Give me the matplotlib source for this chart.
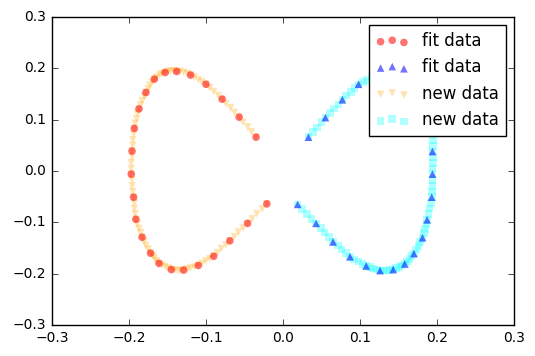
import matplotlib
matplotlib.use("Agg")
import matplotlib.pyplot as plt

plt.style.use('classic')

# fitted points, left curve
fit_left_x = [-0.035, -0.057, -0.079, -0.100, -0.120, -0.138, -0.153, -0.167, -0.178,
              -0.187, -0.193, -0.196, -0.197, -0.194, -0.191, -0.183, -0.172, -0.161,
              -0.145, -0.129, -0.110, -0.090, -0.069, -0.046, -0.021]
fit_left_y = [0.066, 0.105, 0.140, 0.169, 0.187, 0.194, 0.192, 0.179, 0.153,
              0.121, 0.083, 0.039, -0.006, -0.051, -0.094, -0.129, -0.160, -0.180,
              -0.192, -0.193, -0.184, -0.166, -0.136, -0.102, -0.064]

# fitted points, right curve
fit_right_x = [0.033, 0.055, 0.077, 0.098, 0.120, 0.138, 0.153, 0.167, 0.178,
               0.187, 0.193, 0.194, 0.194, 0.193, 0.187, 0.181, 0.170, 0.158,
               0.143, 0.126, 0.108, 0.087, 0.065, 0.043, 0.019]
fit_right_y = [0.066, 0.104, 0.139, 0.169, 0.187, 0.194, 0.192, 0.179, 0.153,
               0.121, 0.083, 0.038, -0.006, -0.051, -0.095, -0.130, -0.161, -0.181,
               -0.192, -0.194, -0.185, -0.167, -0.138, -0.102, -0.065]

# new data, left curve
new_left_x = [-0.035, -0.041, -0.046, -0.052, -0.057, -0.063, -0.068, -0.074, -0.079,
              -0.084, -0.090, -0.095, -0.100, -0.105, -0.110, -0.115, -0.120, -0.124,
              -0.129, -0.134, -0.138, -0.142, -0.146, -0.149, -0.153, -0.157, -0.160,
              -0.164, -0.167, -0.170, -0.173, -0.175, -0.178, -0.180, -0.183, -0.185,
              -0.187, -0.189, -0.190, -0.192, -0.193, -0.194, -0.195, -0.195, -0.196,
              -0.196, -0.197, -0.197, -0.197, -0.196, -0.196, -0.195, -0.194, -0.193,
              -0.193, -0.192, -0.191, -0.189, -0.187, -0.185, -0.183, -0.180, -0.178,
              -0.175, -0.172, -0.169, -0.167, -0.164, -0.161, -0.157, -0.153, -0.149,
              -0.145, -0.141, -0.137, -0.133, -0.129, -0.124, -0.120, -0.115, -0.110,
              -0.105, -0.100, -0.095, -0.090, -0.085, -0.080, -0.074, -0.069, -0.063,
              -0.058, -0.052, -0.046, -0.040, -0.034, -0.027, -0.021]
new_left_y = [0.066, 0.076, 0.086, 0.095, 0.105, 0.114, 0.123, 0.131, 0.140,
              0.147, 0.155, 0.162, 0.169, 0.174, 0.178, 0.183, 0.187, 0.190,
              0.192, 0.194, 0.194, 0.195, 0.195, 0.194, 0.192, 0.190, 0.187,
              0.183, 0.179, 0.173, 0.167, 0.160, 0.153, 0.145, 0.137, 0.129,
              0.121, 0.112, 0.102, 0.093, 0.083, 0.072, 0.061, 0.050, 0.039,
              0.028, 0.017, 0.005, -0.006, -0.017, -0.029, -0.040, -0.051, -0.062,
              -0.073, -0.083, -0.094, -0.103, -0.112, -0.120, -0.129, -0.137, -0.145,
              -0.152, -0.160, -0.165, -0.170, -0.175, -0.180, -0.183, -0.186, -0.189,
              -0.192, -0.193, -0.194, -0.194, -0.193, -0.191, -0.189, -0.187, -0.184,
              -0.180, -0.175, -0.171, -0.166, -0.159, -0.151, -0.144, -0.136, -0.128,
              -0.119, -0.111, -0.102, -0.093, -0.083, -0.074, -0.064]

# new data, right curve
new_right_x = [0.033, 0.039, 0.044, 0.050, 0.055, 0.061, 0.066, 0.072, 0.077,
               0.082, 0.088, 0.093, 0.098, 0.104, 0.109, 0.115, 0.120, 0.124,
               0.129, 0.134, 0.138, 0.142, 0.146, 0.149, 0.153, 0.157, 0.160,
               0.164, 0.167, 0.170, 0.173, 0.175, 0.178, 0.180, 0.183, 0.185,
               0.187, 0.189, 0.190, 0.192, 0.193, 0.194, 0.195, 0.195, 0.194,
               0.195, 0.195, 0.194, 0.194, 0.194, 0.194, 0.193, 0.193, 0.192,
               0.190, 0.189, 0.187, 0.186, 0.184, 0.183, 0.181, 0.178, 0.176,
               0.173, 0.170, 0.167, 0.164, 0.161, 0.158, 0.154, 0.151, 0.147,
               0.143, 0.139, 0.135, 0.130, 0.126, 0.122, 0.117, 0.113, 0.108,
               0.103, 0.098, 0.092, 0.087, 0.082, 0.076, 0.071, 0.065, 0.060,
               0.054, 0.049, 0.043, 0.037, 0.031, 0.025, 0.019]
new_right_y = [0.066, 0.076, 0.085, 0.095, 0.104, 0.113, 0.122, 0.130, 0.139,
               0.147, 0.154, 0.162, 0.169, 0.174, 0.178, 0.183, 0.187, 0.190,
               0.192, 0.194, 0.194, 0.195, 0.195, 0.194, 0.192, 0.190, 0.187,
               0.183, 0.179, 0.173, 0.167, 0.160, 0.153, 0.145, 0.137, 0.129,
               0.121, 0.112, 0.102, 0.093, 0.083, 0.072, 0.061, 0.049, 0.038,
               0.027, 0.016, 0.005, -0.006, -0.017, -0.029, -0.040, -0.051, -0.062,
               -0.073, -0.084, -0.095, -0.104, -0.113, -0.121, -0.130, -0.138, -0.146,
               -0.153, -0.161, -0.166, -0.171, -0.176, -0.181, -0.184, -0.187, -0.189,
               -0.192, -0.193, -0.194, -0.194, -0.194, -0.192, -0.190, -0.187, -0.185,
               -0.181, -0.176, -0.172, -0.167, -0.160, -0.153, -0.145, -0.138, -0.129,
               -0.120, -0.111, -0.102, -0.093, -0.084, -0.074, -0.065]

fig = plt.figure(figsize=(5.35, 3.56), dpi=100)
ax = fig.add_axes([0.097, 0.087, 0.864, 0.865])

ax.scatter(fit_left_x, fit_left_y, s=30, c='red', marker='o', alpha=0.55,
           edgecolors='none', label='fit data', zorder=3)
ax.scatter(fit_right_x, fit_right_y, s=30, c='blue', marker='^', alpha=0.55,
           edgecolors='none', label='fit data', zorder=3)
ax.scatter(new_left_x, new_left_y, s=30, c='orange', marker='v', alpha=0.3,
           edgecolors='none', label='new data')
ax.scatter(new_right_x, new_right_y, s=30, c='cyan', marker='s', alpha=0.3,
           edgecolors='none', label='new data')

ax.set_xlim(-0.3, 0.3)
ax.set_ylim(-0.3, 0.3)
ax.set_xticks([-0.3, -0.2, -0.1, 0.0, 0.1, 0.2, 0.3])
ax.set_yticks([-0.3, -0.2, -0.1, 0.0, 0.1, 0.2, 0.3])
ax.tick_params(labelsize=10)
ax.legend(loc='upper right', fontsize=12, scatterpoints=3)

fig.savefig('out.png', dpi=100)
